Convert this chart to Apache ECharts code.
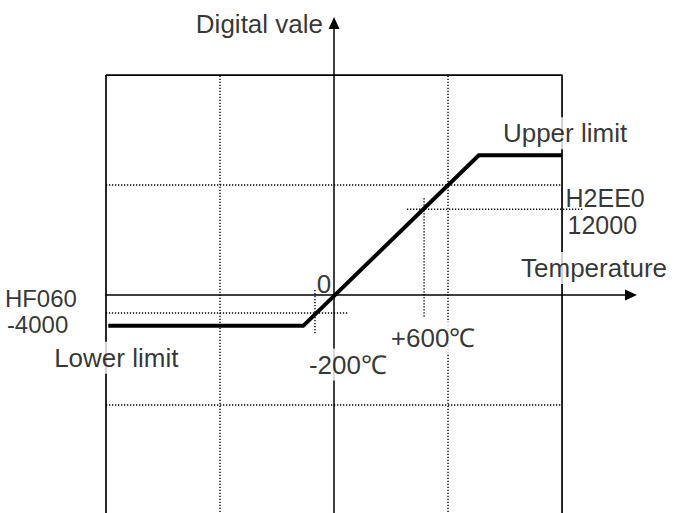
<!DOCTYPE html>
<html>
<head>
<meta charset="utf-8">
<script src="https://cdn.jsdelivr.net/npm/echarts@6/dist/echarts.min.js"></script>
<style>
  html, body { margin: 0; padding: 0; background: #fff; }
  #chart { width: 680px; height: 513px; }
</style>
</head>
<body>
<div id="chart"></div>
<script>
// Schematic units: one grid cell = 1 unit on each axis, origin at 0 °C / 0.
const boxX = [-2, 2];
const boxY = [-2, 2];
const gridXs = [-1, 1];
const gridYs = [-1, 1];

// Conversion characteristic, clamped at the lower and upper limits
const curveX = [-1.98, -0.27, 1.27, 2.0];
const curveY = [-0.28, -0.28, 1.27, 1.27];

// Reference points on the characteristic
const refTemp = [-0.167, 0.79];
const refValue = [-0.164, 0.78];
const refTempSpan = [[0.045, -0.36], [0.88, -0.21]];   // vertical extent of temperature guides
const refValueSpan = [[-2.08, 0.12], [0.64, 2.18]];    // horizontal extent of value guides
const refTempLabels = ['-200℃', '+600℃'];
const refHexLabels = ['HF060', 'H2EE0'];
const refDecLabels = ['-4000', '12000'];
const limitLabels = ['Lower limit', 'Upper limit'];
const axisNames = ['Temperature', 'Digital vale'];
const originLabel = '0';

const X_MAX = 2.605, Y_MAX = 2.473;
const FONT = '"Liberation Sans", Arial, sans-serif';
const INK = '#000';

const dotted = { color: INK, width: 1.4, type: [1.3, 1.7] };

function seg(name, pts, style, z) {
  return {
    name, type: 'line', data: pts, symbol: 'none', silent: true, z: z || 2,
    clip: false, lineStyle: style, animation: false
  };
}

const series = [];

// outer frame
series.push(seg('frame', [
  [boxX[0], boxY[1]], [boxX[1], boxY[1]], [boxX[1], boxY[0]],
  [boxX[0], boxY[0]], [boxX[0], boxY[1]]
], { color: INK, width: 1.7 }, 1));

// dotted grid
gridXs.forEach((gx, i) => series.push(seg('gx' + i, [[gx, boxY[0]], [gx, boxY[1]]], dotted, 1)));
gridYs.forEach((gy, i) => series.push(seg('gy' + i, [[boxX[0], gy], [boxX[1], gy]], dotted, 1)));

// dotted guides for the reference points
refTemp.forEach((t, i) => series.push(seg('rt' + i, [[t, refTempSpan[i][0]], [t, refTempSpan[i][1]]], dotted, 1)));
refValue.forEach((v, i) => series.push(seg('rv' + i, [[refValueSpan[i][0], v], [refValueSpan[i][1], v]], dotted, 1)));

// characteristic
series.push(seg('curve', curveX.map((x, i) => [x, curveY[i]]),
  { color: INK, width: 4, join: 'miter', cap: 'butt' }, 5));

// text labels anchored on the drawing
function lab(x, y, text, off, align, bg, size) {
  const fs = size || 26;
  return {
    value: [x, y],
    label: {
      show: true, formatter: text, position: off, align: align || 'center',
      verticalAlign: 'middle', backgroundColor: bg ? '#fff' : 'transparent',
      padding: bg ? [4, 2, 4, 2] : 0,
      fontSize: fs, lineHeight: fs - 2, fontFamily: FONT, color: INK
    }
  };
}
const labels = [
  lab(0, Y_MAX, axisNames[1], [-11, 1], 'right'),
  lab(boxX[1], 0, axisNames[0], [32, -27], 'center', true),
  lab(curveX[3], curveY[3], limitLabels[1], [3, -22], 'center', true),
  lab(curveX[0], curveY[0], limitLabels[0], [8, 32], 'center', true),
  lab(refValueSpan[0][0], refValue[0], refHexLabels[0], [-92, -15], 'left', false, 24),
  lab(refValueSpan[0][0], refValue[0], refDecLabels[0], [-90, 11], 'left', false, 24),
  lab(refValueSpan[1][1], refValue[1], refHexLabels[1], [-17, -11], 'left', false, 25),
  lab(refValueSpan[1][1], refValue[1], refDecLabels[1], [-15, 16], 'left', false, 25),
  lab(0, 0, originLabel, [-10, -11], 'center'),
  lab(refTemp[0], refTempSpan[0][1], refTempLabels[0], [33, 30], 'center', true),
  lab(refTemp[1], refTempSpan[1][1], refTempLabels[1], [9, 20], 'center', true)
];
series.push({
  name: 'labels', type: 'scatter', symbolSize: 0, silent: true, z: 10,
  clip: false, animation: false, data: labels
});

const axisCommon = {
  type: 'value',
  axisTick: { show: false },
  axisLabel: { show: false },
  splitLine: { show: false },
  axisLine: {
    show: true, onZero: true,
    symbol: ['none', 'triangle'], symbolSize: [11, 12],
    lineStyle: { color: INK, width: 1.5 }
  }
};

const chart = echarts.init(document.getElementById('chart'), null, { renderer: 'svg' });
chart.setOption({
  animation: false,
  backgroundColor: '#fff',
  grid: {
    left: 106, width: 525, top: 23, height: 492,
    containLabel: false, outerBoundsMode: 'none'
  },
  xAxis: Object.assign({ min: -2, max: X_MAX }, axisCommon),
  yAxis: Object.assign({ min: -2, max: Y_MAX }, axisCommon),
  series
});
</script>
</body>
</html>
